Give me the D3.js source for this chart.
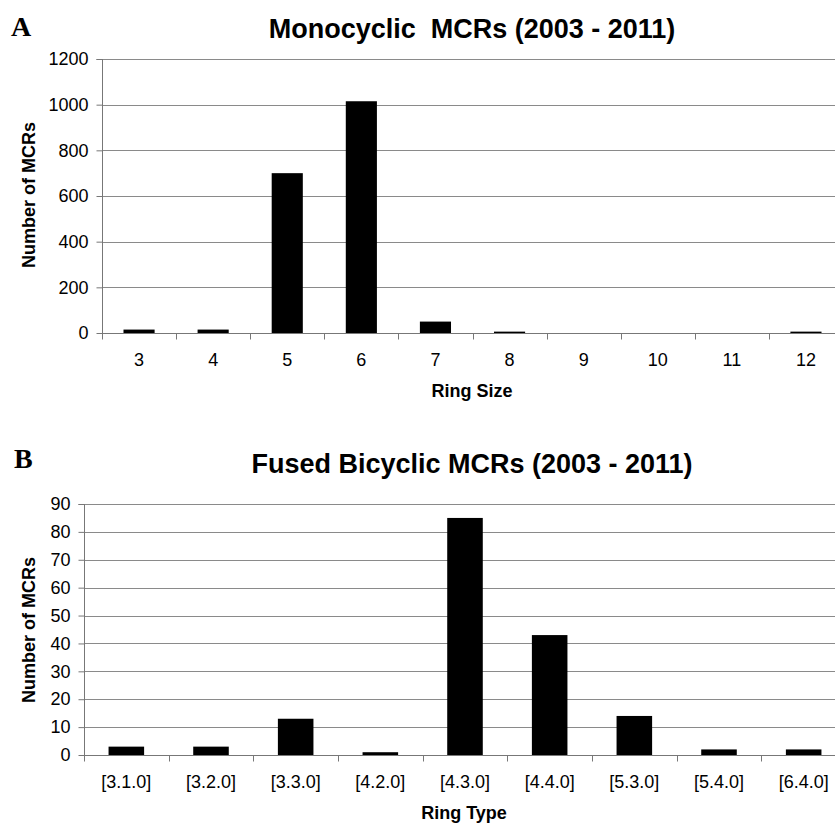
<!DOCTYPE html>
<html>
<head>
<meta charset="utf-8">
<script src="https://cdn.jsdelivr.net/npm/d3@7"></script>
<style>
  html, body { margin: 0; padding: 0; background: #fff; }
  svg { display: block; }
</style>
</head>
<body>
<svg id="fig" width="835" height="824"></svg>
<script>
// Monocyclic MCRs by ring size
const ringSizes = ["3", "4", "5", "6", "7", "8", "9", "10", "11", "12"];
const monoCounts = [15, 15, 700, 1015, 50, 6, 0, 0, 0, 6];
const monoTicks = [0, 200, 400, 600, 800, 1000, 1200];

// Fused bicyclic MCRs by ring type
const ringTypes = ["[3.1.0]", "[3.2.0]", "[3.3.0]", "[4.2.0]", "[4.3.0]", "[4.4.0]", "[5.3.0]", "[5.4.0]", "[6.4.0]"];
const bicCounts = [3, 3, 13, 1, 85, 43, 14, 2, 2];
const bicTicks = [0, 10, 20, 30, 40, 50, 60, 70, 80, 90];

const svg = d3.select("#fig");
const SANS = "'Liberation Sans', Arial, sans-serif";
const SERIF = "'Liberation Serif', 'Times New Roman', serif";
const GRID = "#8a8a8a";
const AXIS = "#777777";

function panel(cfg) {
  const g = svg.append("g");
  const x = d3.scaleBand()
    .domain(cfg.cats)
    .range([cfg.left, cfg.right])
    .paddingInner(0.58)
    .paddingOuter(0.29);
  const y = d3.scaleLinear()
    .domain([0, cfg.max])
    .range([cfg.bottom, cfg.top]);

  // horizontal gridlines
  g.append("g").selectAll("line")
    .data(cfg.ticks.filter(d => d > 0))
    .join("line")
    .attr("x1", cfg.left).attr("x2", cfg.right)
    .attr("y1", d => Math.round(y(d)) + 0.5)
    .attr("y2", d => Math.round(y(d)) + 0.5)
    .attr("stroke", GRID).attr("stroke-width", 1);

  // bars
  g.append("g").selectAll("rect")
    .data(cfg.cats.map((c, i) => ({ c, v: cfg.values[i] })))
    .join("rect")
    .attr("x", d => x(d.c))
    .attr("width", x.bandwidth())
    .attr("y", d => y(d.v))
    .attr("height", d => cfg.bottom - y(d.v))
    .attr("fill", "#000");

  // y axis
  const yAxis = d3.axisLeft(y)
    .tickValues(cfg.ticks)
    .tickFormat(d3.format("d"))
    .tickSize(6)
    .tickPadding(8);
  const ya = g.append("g")
    .attr("transform", `translate(${Math.round(cfg.left) + 0.5},0)`)
    .call(yAxis);
  ya.select(".domain").attr("stroke", AXIS).attr("d", `M-6,${Math.round(cfg.top) + 0.5}H0V${cfg.bottom}`);
  ya.selectAll(".tick line").attr("stroke", AXIS);
  ya.selectAll(".tick text")
    .style("font-family", SANS)
    .style("font-size", "18px")
    .attr("fill", "#000");

  // x axis: baseline, category separators, labels under band centres
  const n = cfg.cats.length;
  const sep = d3.scaleLinear().domain([0, n]).range([cfg.left, cfg.right]);
  const base = Math.round(cfg.bottom) + 0.5;
  g.append("line")
    .attr("x1", cfg.left).attr("x2", cfg.right)
    .attr("y1", base).attr("y2", base)
    .attr("stroke", AXIS);
  g.append("g").selectAll("line")
    .data(d3.range(0, n + 1))
    .join("line")
    .attr("x1", d => Math.round(sep(d)) + 0.5)
    .attr("x2", d => Math.round(sep(d)) + 0.5)
    .attr("y1", base).attr("y2", base + 6)
    .attr("stroke", AXIS);
  g.append("g").selectAll("text")
    .data(cfg.cats)
    .join("text")
    .attr("x", d => x(d) + x.bandwidth() / 2)
    .attr("y", cfg.labelY)
    .attr("text-anchor", "middle")
    .style("font-family", SANS)
    .style("font-size", "18px")
    .text(d => d);

  // titles
  g.append("text")
    .attr("x", cfg.titleX).attr("y", cfg.titleY)
    .attr("text-anchor", "middle")
    .style("font-family", SANS)
    .style("font-size", "27px").style("font-weight", "bold")
    .style("white-space", "pre")
    .text(cfg.title);
  g.append("text")
    .attr("x", cfg.xTitleX).attr("y", cfg.xTitleY)
    .attr("text-anchor", "middle")
    .style("font-family", SANS)
    .style("font-size", "18px").style("font-weight", "bold")
    .text(cfg.xTitle);
  g.append("text")
    .attr("transform", `translate(35,${cfg.yTitleY}) rotate(-90)`)
    .attr("text-anchor", "middle")
    .style("font-family", SANS)
    .style("font-size", "18px").style("font-weight", "bold")
    .text("Number of MCRs");
  g.append("text")
    .attr("x", cfg.letterX).attr("y", cfg.letterY)
    .style("font-family", SERIF)
    .style("font-size", "28px").style("font-weight", "bold")
    .text(cfg.letter);
}

panel({
  cats: ringSizes, values: monoCounts, ticks: monoTicks, max: 1200,
  left: 102, right: 843, top: 59, bottom: 333,
  labelY: 366,
  title: "Monocyclic  MCRs (2003 - 2011)", titleX: 472, titleY: 38,
  xTitle: "Ring Size", xTitleX: 472, xTitleY: 397,
  yTitleY: 195,
  letter: "A", letterX: 11, letterY: 36
});

panel({
  cats: ringTypes, values: bicCounts, ticks: bicTicks, max: 90,
  left: 84, right: 846, top: 504, bottom: 755,
  labelY: 788,
  title: "Fused Bicyclic MCRs (2003 - 2011)", titleX: 472, titleY: 473,
  xTitle: "Ring Type", xTitleX: 464, xTitleY: 819,
  yTitleY: 630,
  letter: "B", letterX: 14, letterY: 468
});
</script>
</body>
</html>
